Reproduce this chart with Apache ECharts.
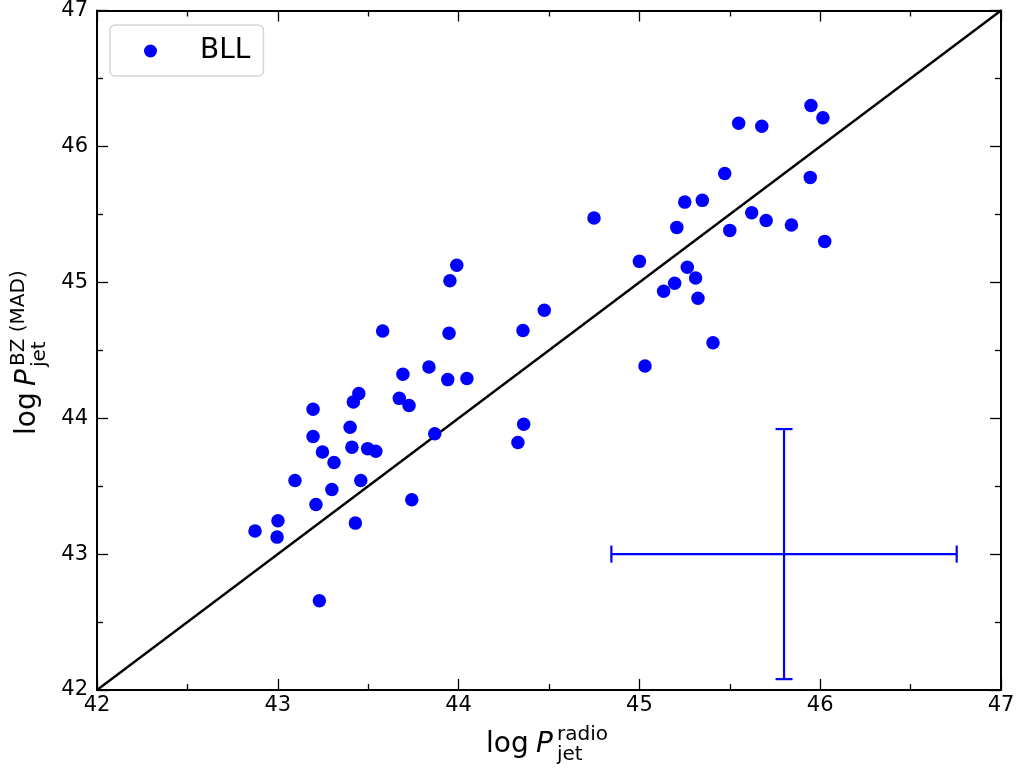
<!DOCTYPE html>
<html>
<head>
<meta charset="utf-8">
<script src="https://cdn.jsdelivr.net/npm/echarts@6/dist/echarts.min.js"></script>
<style>
html,body{margin:0;padding:0;background:#fff;}
#chart{width:1018px;height:771px;}
</style>
</head>
<body>
<div id="chart"></div>
<script>
// Data
const bllX = [42.874, 43.001, 42.996, 43.095, 43.195, 43.195, 43.211, 43.247, 43.23, 43.311, 43.299,
  43.40, 43.41, 43.418, 43.448, 43.429, 43.459, 43.497, 43.542, 43.580, 43.692, 43.672, 43.726, 43.741,
  43.836, 43.868, 43.940, 43.947, 43.952, 43.99, 44.046, 44.328, 44.356, 44.360, 44.474, 44.749,
  45.0, 45.031, 45.134, 45.195, 45.207, 45.251, 45.265, 45.311, 45.324, 45.348, 45.407, 45.472,
  45.500, 45.549, 45.621, 45.677, 45.701, 45.841, 45.945, 45.949, 46.015, 46.025];
const bllY = [43.170, 43.245, 43.125, 43.542, 44.066, 43.865, 43.365, 43.752, 42.657, 43.674, 43.476,
  43.934, 43.787, 44.120, 44.181, 43.228, 43.542, 43.776, 43.757, 44.642, 44.324, 44.146, 44.093, 43.400,
  44.377, 43.885, 44.284, 44.625, 45.012, 45.125, 44.292, 43.821, 44.645, 43.956, 44.794, 45.473,
  45.154, 44.384, 44.934, 44.993, 45.404, 45.590, 45.110, 45.032, 44.882, 45.603, 44.555, 45.801,
  45.382, 46.171, 45.512, 46.149, 45.454, 45.421, 45.772, 46.301, 46.211, 45.301];
const errCenter = [45.80, 43.00];
const errHalfX = [0.955];
const errHalfY = [0.92];
const oneToOne = [[42, 42], [47, 47]];
const xTicks = [42, 43, 44, 45, 46, 47];
const yTicks = [42, 43, 44, 45, 46, 47];

const chart = echarts.init(document.getElementById('chart'));
const font = 'DejaVu Sans';
const axisCommon = {
  min: 42, max: 47, interval: 1,
  axisLine: {show: true, onZero: false, lineStyle: {color: '#000', width: 2}},
  axisTick: {show: true, inside: true, length: 11, lineStyle: {color: '#000', width: 1.3}},
  minorTick: {show: true, splitNumber: 2, length: 6, lineStyle: {color: '#000', width: 1.3}},
  splitLine: {show: false}
};
const points = bllX.map((x, i) => [x, bllY[i]]);

chart.setOption({
  animation: false,
  backgroundColor: '#fff',
  grid: {left: 97, right: 17, top: 10, bottom: 81, containLabel: false},
  xAxis: [
    Object.assign({}, axisCommon, {type: 'value', position: 'bottom',
      axisLabel: {show: true, fontFamily: font, fontSize: 21, color: '#000', margin: 5,
        formatter: v => xTicks.includes(v) ? String(v) : ''}}),
    Object.assign({}, axisCommon, {type: 'value', position: 'top', axisLabel: {show: false}})
  ],
  yAxis: [
    Object.assign({}, axisCommon, {type: 'value', position: 'left',
      axisLabel: {show: true, fontFamily: font, fontSize: 21, color: '#000', margin: 9,
        formatter: v => yTicks.includes(v) ? String(v) : ''}}),
    Object.assign({}, axisCommon, {type: 'value', position: 'right', axisLabel: {show: false}})
  ],
  legend: {
    show: true, left: 110, top: 25, orient: 'horizontal',
    data: [{name: 'BLL', icon: 'circle'}],
    itemWidth: 13, itemHeight: 13,
    padding: [12, 13, 11, 34],
    borderColor: '#d5d5d5', borderWidth: 1.5, borderRadius: 5,
    backgroundColor: '#fff',
    textStyle: {fontFamily: font, fontSize: 28, color: '#000', padding: [0, 0, 0, 38]}
  },
  series: [
    {
      type: 'line', data: oneToOne, showSymbol: false, symbol: 'none',
      lineStyle: {color: '#000', width: 2.4}, silent: true, z: 2
    },
    {
      name: 'BLL', type: 'scatter', data: points, symbol: 'circle', symbolSize: 13.5,
      itemStyle: {color: '#0000ff', opacity: 1}, z: 3
    },
    {
      type: 'custom', z: 4, silent: true,
      data: [[errCenter[0], errCenter[1], errHalfX[0], errHalfY[0]]],
      renderItem: function (params, api) {
        const cx = api.value(0), cy = api.value(1), hx = api.value(2), hy = api.value(3);
        const l = api.coord([cx - hx, cy]);
        const r = api.coord([cx + hx, cy]);
        const t = api.coord([cx, cy + hy]);
        const b = api.coord([cx, cy - hy]);
        const cap = 8.5;
        const st = {stroke: '#0000ff', lineWidth: 2.2};
        return {
          type: 'group',
          children: [
            {type: 'line', shape: {x1: l[0], y1: l[1], x2: r[0], y2: r[1]}, style: st},
            {type: 'line', shape: {x1: l[0], y1: l[1] - cap, x2: l[0], y2: l[1] + cap}, style: st},
            {type: 'line', shape: {x1: r[0], y1: r[1] - cap, x2: r[0], y2: r[1] + cap}, style: st},
            {type: 'line', shape: {x1: t[0], y1: t[1], x2: b[0], y2: b[1]}, style: st},
            {type: 'line', shape: {x1: t[0] - cap, y1: t[1], x2: t[0] + cap, y2: t[1]}, style: st},
            {type: 'line', shape: {x1: b[0] - cap, y1: b[1], x2: b[0] + cap, y2: b[1]}, style: st}
          ]
        };
      }
    }
  ],
  graphic: [
    {
      type: 'group', x: 486, y: 0,
      children: [
        {type: 'text', x: 0, y: 744.5, style: {text: 'log', fontFamily: font, fontSize: 28, fill: '#000', verticalAlign: 'middle'}},
        {type: 'text', x: 50, y: 744.5, style: {text: 'P', fontFamily: font, fontSize: 28, fontStyle: 'italic', fill: '#000', verticalAlign: 'middle'}},
        {type: 'text', x: 71, y: 734.5, style: {text: 'radio', fontFamily: font, fontSize: 20, fill: '#000', verticalAlign: 'middle'}},
        {type: 'text', x: 71, y: 755, style: {text: 'jet', fontFamily: font, fontSize: 20, fill: '#000', verticalAlign: 'middle'}}
      ]
    },
    {
      type: 'group', x: 0, y: 435, rotation: Math.PI / 2,
      children: [
        {type: 'text', x: 0, y: 28, style: {text: 'log', fontFamily: font, fontSize: 28, fill: '#000', verticalAlign: 'middle'}},
        {type: 'text', x: 49, y: 28, style: {text: 'P', fontFamily: font, fontSize: 28, fontStyle: 'italic', fill: '#000', verticalAlign: 'middle'}},
        {type: 'text', x: 69, y: 18.5, style: {text: 'BZ (MAD)', fontFamily: font, fontSize: 20, fill: '#000', verticalAlign: 'middle'}},
        {type: 'text', x: 68, y: 39.5, style: {text: 'jet', fontFamily: font, fontSize: 20, fill: '#000', verticalAlign: 'middle'}}
      ]
    }
  ]
});
</script>
</body>
</html>
